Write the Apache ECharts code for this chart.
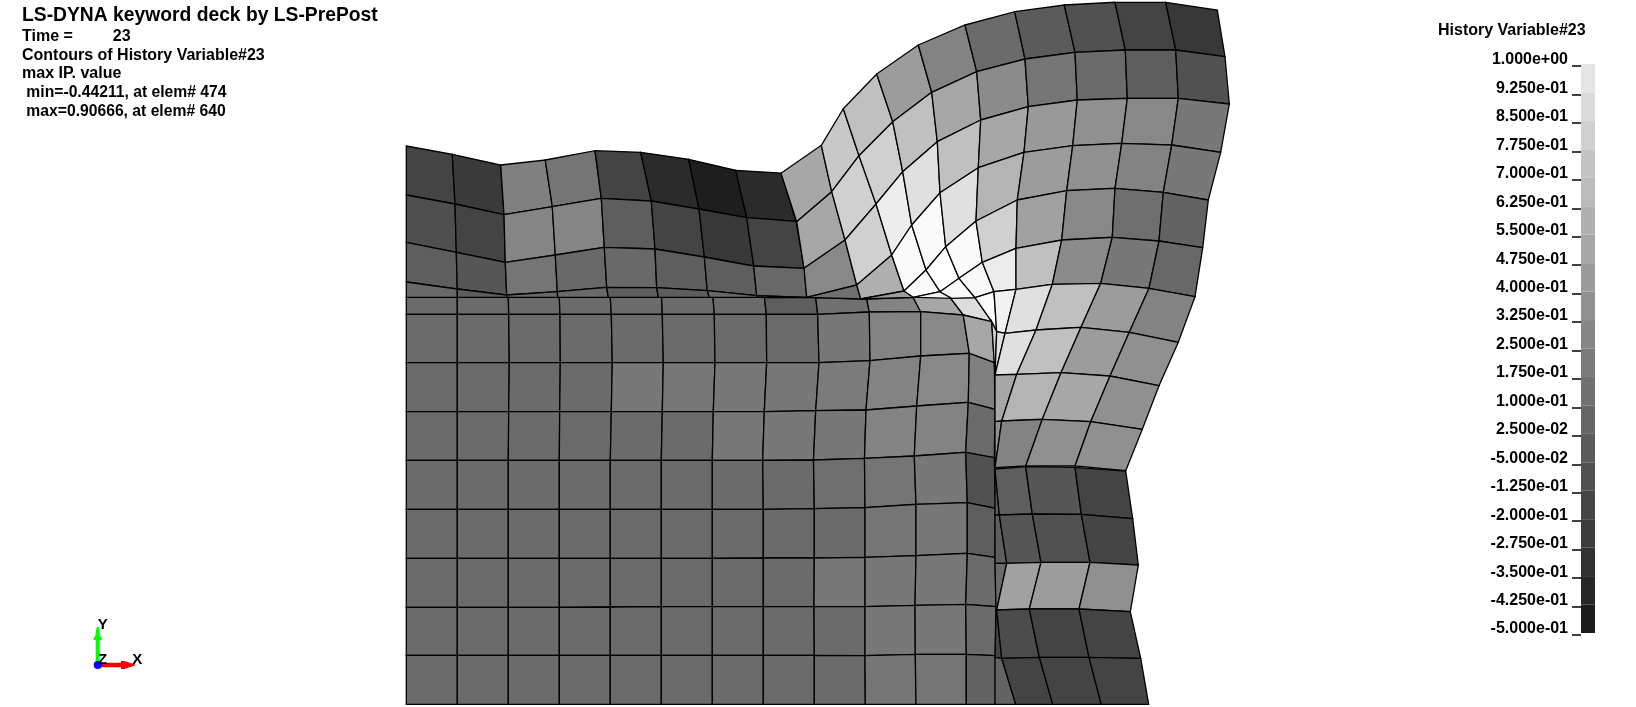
<!DOCTYPE html>
<html><head><meta charset="utf-8">
<style>html,body{margin:0;padding:0;background:#fff}#c{width:1636px;height:707px}</style>
<script src="https://cdn.jsdelivr.net/npm/echarts@6/dist/echarts.min.js"></script>
</head><body><div id="c"></div>
<script>
// ---------- text ----------
const headerTitle = 'LS-DYNA keyword deck by LS-PrePost';
const headerLines = ['Time =         23','Contours of History Variable#23','max IP. value',' min=-0.44211, at elem# 474',' max=0.90666, at elem# 640'];
const legendTitle = 'History Variable#23';
const tickLabels = ['1.000e+00','9.250e-01','8.500e-01','7.750e-01','7.000e-01','6.250e-01','5.500e-01','4.750e-01','4.000e-01','3.250e-01','2.500e-01','1.750e-01','1.000e-01','2.500e-02','-5.000e-02','-1.250e-01','-2.000e-01','-2.750e-01','-3.500e-01','-4.250e-01','-5.000e-01'];
const tickValues = [1,0.925,0.85,0.775,0.7,0.625,0.55,0.475,0.4,0.325,0.25,0.175,0.1,0.025,-0.05,-0.125,-0.2,-0.275,-0.35,-0.425,-0.5];

// ---------- base block: node rows [x,y,...] and element values ----------
const baseNodes = [
[[406.3,297.3],[457.3,297.3],[508.3,297.3],[559.3,297.3],[610.3,297.3],[661.6,297.3],[713,297.3],[764.5,297.3],[815.7,297.7],[866.7,299],[913,297.3],[950,297.3],[975,297.7]],
[[406.3,314.3],[457.3,314.3],[508.7,314.3],[560,314.3],[611.3,314.3],[662.3,314.3],[714.3,314.3],[766.3,314.3],[817.7,314.3],[869.3,312],[920.7,311.7],[963.3,315],[991.7,321.7]],
[[406.3,362.7],[457.3,362.7],[509.3,362.7],[560.3,362.7],[612.3,362.7],[663.3,362.7],[715,362.7],[766.7,362.7],[819,362.7],[870,360.7],[920.7,356],[969.3,353.3],[994.3,362.7]],
[[406.3,411.7],[457.3,411.7],[508.7,411.7],[559.7,411.7],[611.3,411.7],[662.3,411.7],[713.3,411.7],[764.3,411.7],[815.7,410.7],[866,410],[916.7,406],[968.3,402.3],[995,409.3]],
[[406.3,460.3],[457.3,460.3],[508.3,460.3],[559.3,460.3],[610.3,460.3],[661.3,460.3],[712.3,460.3],[762.7,460.3],[813.5,460],[864.5,458.3],[914.3,456],[965.7,452.3],[994.3,457.7]],
[[406.3,509.3],[457.3,509.3],[508.3,509.3],[559.3,509.3],[610.3,509.3],[661.3,509.3],[712.3,509.3],[763.3,509.3],[814.3,508.7],[865,507.7],[916,504.3],[967.3,502.7],[995.3,508.3]],
[[406.3,558.3],[457.3,558.3],[508.3,558.3],[559.3,558.3],[610.3,558.3],[661.3,558.3],[712.3,558.3],[763.3,558],[814.3,558],[865,557.3],[916,555.7],[967.3,553.3],[995,557.3]],
[[406.3,607.3],[457.3,607.3],[508.3,607.3],[559.3,607.3],[610.3,607],[661.3,606.7],[712.3,606.7],[763.3,606.7],[814,606.7],[865,606.7],[915,605.3],[965.7,604.3],[996,606.7]],
[[406.3,655.3],[457.3,655.3],[508.3,655.3],[559.3,655.3],[610.3,655.3],[661.3,655.3],[712.3,655.3],[763.3,655.3],[814.3,655.3],[865,655.7],[915.3,654.3],[966.3,654.3],[995.3,655.7]],
[[406.3,704.3],[457.3,704.3],[508.3,704.3],[559.3,704.3],[610.3,704.3],[661.3,704.3],[712.3,704.3],[763.3,704.3],[814.3,704.3],[865.3,704.3],[916,704.3],[966.3,704.3],[995.3,704.3]]
];
const baseValues = [
[.03,.03,.03,.03,.03,.03,.03,-.05,.06,.18,.40,.73],
[.03,.03,.03,.03,.03,.03,.03,.03,.11,.18,.21,.40],
[.03,.03,.03,.03,.11,.11,.11,.11,.13,.18,.21,.16],
[.03,.03,.03,.03,.03,.03,.11,.11,.11,.18,.18,.03],
[.03,.03,.03,.03,.03,.03,.03,.03,.05,.09,.11,-.13],
[.03,.03,.03,.03,.03,.03,.03,.03,.03,.09,.11,-.05],
[.03,.03,.03,.03,.03,.03,.03,.03,.11,.11,.11,.03],
[.03,.03,.03,.03,.03,.03,.03,.03,.03,.11,.11,.03],
[.03,.03,.03,.03,.03,.03,.03,.03,.03,.09,.09,-.02]
];

// ---------- upper-left block ----------
const upperNodes = [
[[406.3,146],[452.3,154.3],[500.7,165],[545.3,160],[595,150.7],[640.7,152.3],[688.7,159.3],[735.7,170.3],[781.3,173]],
[[406.3,195],[455,204],[504,214.7],[552.3,206.7],[601.3,198.3],[651.3,201],[699,209],[746.7,217.7],[796,221.3]],
[[406.3,242.3],[456.3,252.3],[505.3,262.3],[555.3,255],[604.3,247.3],[655,249],[704.3,257],[753.7,266],[804.3,268.3]],
[[406.3,282],[457.3,289],[506.7,295],[557.3,291.7],[606.7,287.3],[656.7,287.7],[707.3,290.7],[756.7,295.7],[806.7,297.3]],
[[406.3,297.3],[457.3,297.3],[507.3,297.3],[557.7,297.3],[608.3,297.3],[658.3,297.3],[709.3,297.3],[757.7,297.3],[807,297.3]]
];
const upperValues = [
[-.21,-.27,.16,.09,-.21,-.36,-.44,-.36],
[-.14,-.21,.19,.19,-.05,-.21,-.28,-.21],
[-.05,-.10,.09,.02,.02,-.05,-.05,.02],
[.02,-.05,.02,.02,-.05,-.05,.02,.02]
];

// ---------- fan block (null = no node / no element) ----------
const fanNodes = [
[[781,173.3],[821.3,145.3],[843.3,108.7],[876.7,74],[918.3,45],[965,25],[1014.7,11.7],[1064.3,5],[1115,2.3],[1165.7,2.3],[1217.3,10]],
[[796.7,221.7],[831.7,191.7],[859,155.7],[892.7,121.7],[931.7,92.3],[976.7,71.7],[1025,59],[1075,52.3],[1125.3,50],[1175.7,50],[1225,56.7]],
[[804,268.3],[845,240],[876,204],[902.7,171.7],[937.3,141.7],[980.7,120],[1028.3,106.7],[1077.3,100],[1127.3,98.3],[1178.3,98.3],[1229.3,104]],
[[806.7,297.3],[856.7,285],[891.7,255],[911.7,225],[940,192.7],[978.3,167.7],[1024,152.3],[1072.7,145.7],[1121.7,143.3],[1171.7,145],[1220.7,152.3]],
[[806.7,297.3],[860.7,299],[904,291],[926,270],[945.7,246.7],[976,221],[1017.3,200],[1066.7,190.7],[1115,188.3],[1163.3,192.3],[1208.3,200]],
[null,[860.7,299],[913.3,297.3],[940,291.7],[959,278.3],[982.3,262.3],[1016,248.3],[1061.7,240],[1112.3,237.3],[1159,241],[1202.7,247.7]],
[null,null,[913.3,297.3],[951.7,298.3],[975,297.7],[994,291.7],[1016,289.3],[1052.3,284.3],[1100.7,283.3],[1149,288.3],[1195,296.7]],
[null,null,null,null,[991.7,321.7],[996.7,331.7],[1005,333.3],[1036,330],[1081,327.3],[1129.3,332.3],[1178.3,342.3]],
[null,null,null,null,[995,375],[995,375],[995,375],[1016.7,374.3],[1061,372.7],[1110,376],[1159,385.7]],
[null,null,null,null,null,null,[995,421.7],[1001.7,421],[1042.3,419.3],[1090.7,421.7],[1142.3,429.3]],
[null,null,null,null,null,null,[995,467.7],[995,467.7],[1025.7,466],[1075,466],[1125.7,470.7]]
];
const fanValues = [
[.40,.60,.55,.33,.18,.03,-.07,-.13,-.21,-.28],
[.40,.65,.65,.55,.40,.23,.09,.03,-.05,-.13],
[.21,.65,.83,.75,.55,.40,.31,.26,.21,.11],
[.06,.45,.91,.91,.75,.48,.33,.26,.18,.11],
[null,.33,.91,.95,.91,.65,.36,.21,.05,-.02],
[null,null,.87,.91,.90,.82,.55,.23,.11,.01],
[null,null,null,null,.92,.85,.75,.55,.33,.18],
[null,null,null,null,.65,.75,.75,.55,.33,.26],
[null,null,null,null,null,null,.40,.48,.40,.26],
[null,null,null,null,null,null,.26,.18,.26,.26]
];

// ---------- lower-right block ----------
const lowerNodes = [
[[995,469],[995,469],[1025.7,466.7],[1075,467.3],[1125.7,471]],
[[995,515],[999.3,515],[1032.3,514],[1081.3,514.3],[1132.7,518.7]],
[[995,563.3],[1006.7,563.3],[1041,562.3],[1090,562.3],[1138.3,565]],
[[996,610],[996.7,610],[1029.3,609],[1079,609],[1130.3,611.7]],
[[995,657.3],[1001.7,658.3],[1039.3,657.3],[1089,657.3],[1140.7,658.3]],
[[995,704.3],[1015.7,704.3],[1052.7,704.3],[1101.3,704.3],[1148.7,704.3]]
];
const lowerValues = [
[-.05,-.05,-.10,-.21],
[-.05,-.10,-.13,-.21],
[.03,.36,.33,.26],
[-.21,-.16,-.21,-.21],
[-.02,-.21,-.21,-.21]
];

// ---------- helpers ----------
function shade(v){const g=Math.min(255,Math.round(102+163*v));return 'rgb('+g+','+g+','+g+')';}
function cells(nodes,values){
  const out=[];
  values.forEach((row,i)=>row.forEach((v,j)=>{
    if(v===null) return;
    const a=nodes[i][j],b=nodes[i][j+1],c=nodes[i+1][j+1],d=nodes[i+1][j];
    if(!a||!b||!c||!d) return;
    out.push([a[0],a[1],b[0],b[1],c[0],c[1],d[0],d[1],v]);
  }));
  return out;
}
function meshSeries(name,nodes,values){
  return {type:'custom',name,coordinateSystem:'cartesian2d',xAxisIndex:0,yAxisIndex:0,clip:false,silent:true,animation:false,
    encode:{x:[0,2,4,6],y:[1,3,5,7]},data:cells(nodes,values),
    renderItem(params,api){
      const pts=[0,2,4,6].map(k=>api.coord([api.value(k),api.value(k+1)]));
      return {type:'polygon',shape:{points:pts},style:{fill:shade(api.value(8)),stroke:'#000',lineWidth:1.3,lineJoin:'miter'}};
    }};
}
function bandGray(v){const g=Math.round(28+(v+0.5)/0.075*10.58);return 'rgb('+g+','+g+','+g+')';}

const chart=echarts.init(document.getElementById('c'),null,{renderer:'canvas'});
const bold='"Liberation Sans", Arial, sans-serif';
function label(text,x,y,size,extra){
  return Object.assign({type:'text',x,y,silent:true,style:{text,fontFamily:bold,fontWeight:'bold',fontSize:size,fill:'#000',textAlign:'left',textVerticalAlign:'middle'}},extra||{});
}
const lineY=[36.5,56,74,93,112];
const lineSize=[16,16,16,15.7,15.7];
chart.setOption({
  animation:false,backgroundColor:'#fff',
  grid:[
    {left:0,top:0,width:1636,height:707,containLabel:false},
    {left:1581,top:66,width:14,height:569,containLabel:false}
  ],
  xAxis:[
    {type:'value',gridIndex:0,min:0,max:1636,show:false},
    {type:'value',gridIndex:1,min:0,max:1,show:false}
  ],
  yAxis:[
    {type:'value',gridIndex:0,min:0,max:707,inverse:true,show:false},
    {type:'category',gridIndex:1,inverse:true,boundaryGap:false,data:tickLabels,position:'left',
      axisLine:{show:false},
      axisTick:{show:true,length:9,interval:0,alignWithLabel:true,lineStyle:{color:'#000',width:1.5}},
      axisLabel:{show:true,interval:0,margin:13,fontFamily:bold,fontWeight:'bold',fontSize:16,lineHeight:12,color:'#000',align:'right',verticalAlign:'bottom',hideOverlap:false},
      splitLine:{show:false}}
  ],
  series:[
    meshSeries('base',baseNodes,baseValues),
    meshSeries('upper',upperNodes,upperValues),
    meshSeries('fan',fanNodes,fanValues),
    meshSeries('lower',lowerNodes,lowerValues),
    {type:'custom',name:'colorbar',xAxisIndex:1,yAxisIndex:1,clip:false,silent:true,animation:false,
      encode:{y:0},data:tickValues.slice(0,-1).map((v,i)=>[i,tickValues[i+1]]),
      renderItem(params,api){
        const i=api.value(0);
        const p0=api.coord([0,i]),p1=api.coord([1,i+1]);
        return {type:'rect',shape:{x:p0[0],y:p0[1]-2,width:p1[0]-p0[0],height:p1[1]-p0[1]},style:{fill:bandGray(api.value(1)),stroke:null}};
      }}
  ],
  graphic:{elements:[
    label(headerTitle,22,16,19.3),
    ...headerLines.map((t,i)=>label(t,22,lineY[i],lineSize[i])),
    label(legendTitle,1438,31,16),
    {type:'polygon',silent:true,shape:{points:[[95.7,665],[95.7,640],[93.7,640],[93.7,637],[95,637],[96.7,627],[98.7,627],[100.4,637],[101.7,637],[101.7,640],[99.7,640],[99.7,665]]},style:{fill:'#00ff00'}},
    {type:'polygon',silent:true,shape:{points:[[97.7,662.7],[121,662.7],[121,661],[124,661],[135,664.5],[135,665.5],[124,669],[121,669],[121,667.3],[97.7,667.3]]},style:{fill:'#ff0000'}},
    {type:'circle',silent:true,shape:{cx:97.7,cy:665,r:4},style:{fill:'#0000ff'}},
    {type:'text',x:102.7,y:625,silent:true,style:{text:'Y',fontFamily:bold,fontWeight:'bold',fontSize:15,fill:'#000',textAlign:'center',textVerticalAlign:'middle'}},
    {type:'text',x:137.3,y:660,silent:true,style:{text:'X',fontFamily:bold,fontWeight:'bold',fontSize:15,fill:'#000',textAlign:'center',textVerticalAlign:'middle'}},
    {type:'text',x:102.7,y:660,silent:true,style:{text:'Z',fontFamily:bold,fontWeight:'bold',fontSize:15,fill:'#000',textAlign:'center',textVerticalAlign:'middle'}}
  ]}
});
</script></body></html>
